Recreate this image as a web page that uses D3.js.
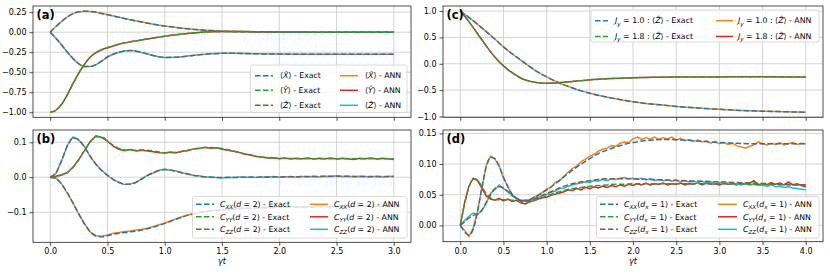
<!DOCTYPE html>
<html><head><meta charset="utf-8">
<script src="https://cdn.jsdelivr.net/npm/d3@7"></script>
<style>
body{margin:0;background:#fff}
svg{display:block}
text{font-family:"DejaVu Sans",sans-serif;fill:#000}
</style>
</head><body>
<svg id="chart" width="830" height="277"></svg>
<script>
// ---------------- DATA ----------------
const xTicksAB = [0, 0.5, 1.0, 1.5, 2.0, 2.5, 3.0];
const xTicksCD = [0, 0.5, 1.0, 1.5, 2.0, 2.5, 3.0, 3.5, 4.0];
const yTicksA = [-1.0, -0.75, -0.5, -0.25, 0, 0.25];
const yTicksB = [-0.1, 0, 0.1];
const yTicksC = [-1.0, -0.5, 0, 0.5, 1.0];
const yTicksD = [0, 0.05, 0.10, 0.15];

// (a) expectation values
const tA = [0,.05,.1,.15,.2,.25,.3,.35,.4,.45,.5,.6,.7,.8,.9,1.0,1.1,1.2,1.3,1.4,1.5,1.6,1.7,1.8,2.0,2.2,2.4,2.6,2.8,3.0];
const aX = [0,0.07,0.135,0.19,0.232,0.255,0.262,0.258,0.248,0.234,0.218,0.186,0.155,0.126,0.100,0.077,0.058,0.042,0.030,0.020,0.013,0.008,0.005,0.003,0.001,0,0,0,0,0];
const aY = [-1,-0.975,-0.90,-0.78,-0.64,-0.51,-0.40,-0.31,-0.255,-0.22,-0.195,-0.15,-0.12,-0.097,-0.072,-0.05,-0.032,-0.016,-0.004,0.004,0.008,0.009,0.008,0.006,0.003,0.001,0,0,0,0];
const aZ = [0,-0.075,-0.16,-0.25,-0.33,-0.395,-0.43,-0.43,-0.405,-0.36,-0.31,-0.25,-0.23,-0.253,-0.292,-0.315,-0.312,-0.298,-0.282,-0.27,-0.264,-0.263,-0.266,-0.27,-0.274,-0.276,-0.276,-0.276,-0.276,-0.276];
// ANN curves coincide with exact ones in (a)
const aXann = aX, aYann = aY, aZann = aZ;

// (b) correlations d = 2, exact
const tB = [0,.05,.1,.15,.2,.25,.3,.35,.4,.45,.5,.55,.6,.65,.7,.75,.8,.85,.9,.95,1.0,1.1,1.2,1.3,1.4,1.5,1.6,1.7,1.8,1.9,2.0,2.25,2.5,2.75,3.0];
const bXX = [0,-0.003,-0.02,-0.045,-0.075,-0.105,-0.134,-0.156,-0.168,-0.17,-0.167,-0.163,-0.16,-0.158,-0.156,-0.154,-0.151,-0.147,-0.143,-0.138,-0.132,-0.12,-0.109,-0.101,-0.096,-0.093,-0.091,-0.089,-0.088,-0.087,-0.086,-0.085,-0.084,-0.083,-0.083];
const bYY = [0,0.002,0.006,0.014,0.028,0.05,0.077,0.101,0.116,0.116,0.104,0.091,0.082,0.078,0.077,0.077,0.078,0.077,0.075,0.072,0.070,0.071,0.077,0.083,0.085,0.082,0.075,0.067,0.06,0.056,0.054,0.053,0.053,0.053,0.053];
const bZZ = [0,0.012,0.048,0.09,0.113,0.107,0.086,0.06,0.037,0.019,0.006,-0.006,-0.015,-0.02,-0.02,-0.014,-0.005,0.005,0.013,0.019,0.022,0.017,0.009,0.003,0.0,-0.001,-0.001,0.0,0.0,0.001,0.001,0.002,0.003,0.002,0.002];
// (b) ANN, sampled every 0.05
const bXXann = [0,-0.002,-0.019,-0.046,-0.074,-0.106,-0.133,-0.157,-0.167,-0.169,
 -0.165,-0.160,-0.158,-0.155,-0.154,-0.151,-0.149,-0.146,-0.141,-0.136,
 -0.131,-0.125,-0.119,-0.113,-0.108,-0.104,-0.100,-0.098,-0.095,-0.094,
 -0.092,-0.091,-0.090,-0.089,-0.088,-0.089,-0.087,-0.088,-0.086,-0.087,
 -0.085,-0.086,-0.084,-0.086,-0.085,-0.084,-0.086,-0.084,-0.083,-0.085,
 -0.083,-0.084,-0.082,-0.084,-0.083,-0.082,-0.084,-0.082,-0.083,-0.081,-0.082];
const bYYann = [0,0.003,0.007,0.013,0.029,0.051,0.076,0.102,0.118,0.114,
 0.103,0.089,0.080,0.076,0.079,0.075,0.077,0.075,0.073,0.070,
 0.069,0.072,0.070,0.074,0.076,0.081,0.082,0.086,0.083,0.084,
 0.080,0.077,0.074,0.071,0.066,0.064,0.059,0.058,0.055,0.056,
 0.053,0.055,0.052,0.054,0.053,0.055,0.052,0.054,0.053,0.055,
 0.052,0.054,0.053,0.051,0.054,0.053,0.055,0.052,0.054,0.053,0.051];
const bZZann = [0,0.011,0.047,0.091,0.115,0.106,0.087,0.059,0.036,0.020,
 0.005,-0.007,-0.014,-0.021,-0.019,-0.015,-0.004,0.006,0.012,0.020,
 0.023,0.020,0.018,0.012,0.010,0.005,0.004,0.001,0.001,-0.001,
 -0.002,0.000,-0.001,0.001,0.000,0.001,-0.001,0.001,0.000,0.002,
 0.000,0.001,0.002,0.000,0.002,0.001,0.003,0.001,0.003,0.002,
 0.004,0.002,0.003,0.001,0.003,0.002,0.001,0.003,0.001,0.002,0.003];

// (c) <Z> for two couplings
const tC = [0,.1,.2,.3,.4,.5,.6,.7,.8,.9,1.0,1.1,1.2,1.3,1.4,1.5,1.75,2.0,2.25,2.5,2.75,3.0,3.25,3.5,3.75,4.0];
const cJ10 = [1.0,0.88,0.75,0.61,0.47,0.32,0.19,0.07,-0.05,-0.16,-0.25,-0.33,-0.40,-0.46,-0.515,-0.56,-0.65,-0.72,-0.77,-0.81,-0.84,-0.865,-0.885,-0.9,-0.91,-0.92];
const cJ18 = [1.0,0.80,0.57,0.34,0.13,-0.04,-0.17,-0.27,-0.33,-0.36,-0.37,-0.365,-0.35,-0.335,-0.32,-0.305,-0.28,-0.265,-0.257,-0.252,-0.25,-0.249,-0.248,-0.248,-0.249,-0.252];
const cJ10ann = cJ10, cJ18ann = cJ18;

// (d) correlations d_x = 1, exact
const tD = [0,.05,.1,.15,.2,.25,.3,.35,.4,.45,.5,.55,.6,.65,.7,.75,.8,.9,1.0,1.1,1.2,1.3,1.4,1.5,1.6,1.7,1.8,1.9,2.0,2.2,2.4,2.6,2.8,3.0,3.2,3.4,3.6,3.8,4.0];
const dXX = [0,-0.01,-0.016,-0.006,0.022,0.062,0.095,0.111,0.109,0.096,0.079,0.063,0.051,0.044,0.041,0.040,0.042,0.049,0.058,0.068,0.079,0.090,0.100,0.109,0.117,0.123,0.128,0.132,0.135,0.139,0.140,0.139,0.137,0.135,0.134,0.133,0.133,0.133,0.133];
const dYY = [0,0.035,0.062,0.076,0.074,0.063,0.052,0.045,0.042,0.042,0.042,0.042,0.041,0.04,0.039,0.038,0.039,0.043,0.048,0.053,0.057,0.06,0.062,0.064,0.065,0.066,0.067,0.067,0.068,0.068,0.068,0.068,0.068,0.068,0.068,0.067,0.067,0.066,0.066];
const dZZ = [0,0.006,0.012,0.016,0.019,0.025,0.037,0.05,0.06,0.063,0.061,0.055,0.049,0.044,0.041,0.04,0.041,0.046,0.052,0.058,0.064,0.068,0.071,0.073,0.075,0.076,0.076,0.076,0.076,0.075,0.074,0.073,0.072,0.071,0.07,0.069,0.068,0.067,0.066];
// (d) ANN, sampled every 0.05
const dXXann = [0.000,-0.008,-0.018,-0.004,0.024,0.060,0.097,0.113,0.108,0.098,
 0.077,0.064,0.049,0.045,0.039,0.042,0.041,0.046,0.049,0.054,
 0.059,0.062,0.070,0.073,0.080,0.087,0.093,0.097,0.104,0.108,
 0.113,0.116,0.121,0.124,0.126,0.130,0.129,0.134,0.136,0.135,
 0.141,0.144,0.140,0.143,0.141,0.144,0.140,0.143,0.141,0.144,
 0.139,0.142,0.138,0.140,0.137,0.139,0.136,0.138,0.134,0.137,
 0.133,0.135,0.132,0.134,0.130,0.128,0.126,0.129,0.131,0.136,
 0.133,0.131,0.134,0.132,0.135,0.131,0.133,0.135,0.132,0.134,0.133];
const dYYann = [0.000,0.037,0.064,0.077,0.073,0.061,0.048,0.043,0.041,0.044,
 0.040,0.043,0.039,0.041,0.037,0.035,0.038,0.040,0.043,0.045,
 0.046,0.049,0.051,0.053,0.055,0.058,0.057,0.060,0.058,0.062,
 0.060,0.063,0.061,0.064,0.062,0.065,0.063,0.066,0.064,0.067,
 0.065,0.068,0.066,0.069,0.066,0.068,0.067,0.069,0.066,0.068,
 0.067,0.069,0.066,0.068,0.067,0.070,0.066,0.069,0.067,0.068,
 0.066,0.069,0.067,0.068,0.066,0.069,0.067,0.069,0.073,0.066,
 0.068,0.066,0.070,0.067,0.069,0.066,0.071,0.066,0.068,0.065,0.063];
const dZZann = [0.000,0.008,0.015,0.020,0.018,0.024,0.036,0.052,0.058,0.066,
 0.060,0.056,0.048,0.045,0.040,0.041,0.039,0.043,0.045,0.049,
 0.050,0.054,0.056,0.060,0.061,0.064,0.066,0.068,0.069,0.071,
 0.070,0.073,0.072,0.075,0.073,0.076,0.075,0.077,0.078,0.076,
 0.077,0.075,0.077,0.074,0.076,0.073,0.075,0.073,0.074,0.072,
 0.074,0.071,0.073,0.071,0.072,0.070,0.072,0.069,0.071,0.068,
 0.070,0.068,0.069,0.067,0.068,0.066,0.068,0.066,0.067,0.065,
 0.066,0.064,0.066,0.063,0.064,0.062,0.063,0.061,0.060,0.059,0.058];

// sample grids for ANN curves (every 0.05)
const tBann = d3.range(bXXann.length).map(i => i * 0.05);
const tDann = d3.range(dXXann.length).map(i => i * 0.05);

// ---------------- STYLE ----------------
const C = {blue:"#1f77b4", orange:"#ff7f0e", green:"#2ca02c", red:"#d62728", brown:"#8c564b", cyan:"#17becf"};
const DASH = "5.55,2.4";
const FS = 8, LFS = 7.8;

const svg = d3.select("#chart");

function rich(sel, parts, fs) {
  let off = 0;
  parts.forEach(([s, st]) => {
    const sub = st.includes("s");
    const target = sub ? fs * 0.28 : 0;
    sel.append("tspan").text(s)
      .attr("dy", target - off)
      .attr("font-size", sub ? fs * 0.72 : fs)
      .attr("font-style", st.includes("i") ? "italic" : "normal");
    off = target;
  });
}

const hat = c => c + "\u0302";
const lblA = (v, k) => [["\u27E8", ""], [hat(v), "i"], ["\u27E9 - " + k, ""]];
const lblB = (v, k) => [["C", "i"], [v, "si"], ["(", ""], ["d", "i"], [" = 2) - " + k, ""]];
const lblC = (j, k) => [["J", "i"], ["y", "si"], [" = " + j + " : \u27E8", ""], [hat("Z"), "i"], ["\u27E9 - " + k, ""]];
const lblD = (v, k) => [["C", "i"], [v, "si"], ["(", ""], ["d", "i"], ["x", "si"], [" = 1) - " + k, ""]];

const panels = [
  { tag:"(a)", x0:33, x1:411, y0:6, y1:117.3, xd:[-0.15,3.15], yd:[-1.063,0.327], xt:xTicksAB, yt:yTicksA, yf:".2f", xlab:false,
    ann:[[tA,aXann,C.orange],[tA,aYann,C.red],[tA,aZann,C.cyan]],
    ex:[[tA,aX,C.blue],[tA,aY,C.green],[tA,aZ,C.brown]],
    leg:{x:250.5, y:65, w:156.5, h:47.5, rows:[75.7,90.3,105.3], cols:[[255,273,280],[340,358,365]],
      items:[[lblA("X","Exact"),C.blue,1],[lblA("Y","Exact"),C.green,1],[lblA("Z","Exact"),C.brown,1],
             [lblA("X","ANN"),C.orange,0],[lblA("Y","ANN"),C.red,0],[lblA("Z","ANN"),C.cyan,0]]} },
  { tag:"(b)", x0:33, x1:411, y0:130, y1:242.3, xd:[-0.15,3.15], yd:[-0.186,0.135], xt:xTicksAB, yt:yTicksB, yf:".1f", xlab:true,
    ann:[[tBann,bXXann,C.orange],[tBann,bYYann,C.red],[tBann,bZZann,C.cyan]],
    ex:[[tB,bXX,C.blue],[tB,bYY,C.green],[tB,bZZ,C.brown]],
    leg:{x:192.5, y:196.5, w:214.5, h:41.5, rows:[204.3,216.8,229.3], cols:[[196,214,220],[310,328,334]],
      items:[[lblB("XX","Exact"),C.blue,1],[lblB("YY","Exact"),C.green,1],[lblB("ZZ","Exact"),C.brown,1],
             [lblB("XX","ANN"),C.orange,0],[lblB("YY","ANN"),C.red,0],[lblB("ZZ","ANN"),C.cyan,0]]} },
  { tag:"(c)", x0:443, x1:823, y0:6, y1:117.3, xd:[-0.2,4.2], yd:[-1.016,1.096], xt:xTicksCD, yt:yTicksC, yf:".1f", xlab:false,
    ann:[[tC,cJ10ann,C.orange],[tC,cJ18ann,C.red]],
    ex:[[tC,cJ10,C.blue],[tC,cJ18,C.green]],
    leg:{x:591, y:10, w:228, h:32, rows:[20.7,36.5], cols:[[595,608,615],[716,733,738]],
      items:[[lblC("1.0","Exact"),C.blue,1],[lblC("1.8","Exact"),C.green,1],
             [lblC("1.0","ANN"),C.orange,0],[lblC("1.8","ANN"),C.red,0]]} },
  { tag:"(d)", x0:443, x1:823, y0:130, y1:241.7, xd:[-0.2,4.2], yd:[-0.0265,0.1555], xt:xTicksCD, yt:yTicksD, yf:".2f", xlab:true,
    ann:[[tDann,dXXann,C.orange],[tDann,dYYann,C.red],[tDann,dZZann,C.cyan]],
    ex:[[tD,dXX,C.blue],[tD,dYY,C.green],[tD,dZZ,C.brown]],
    leg:{x:596.5, y:196.5, w:222.5, h:41.5, rows:[204.3,216.8,229.3], cols:[[600,618,624],[718,737,743]],
      items:[[lblD("XX","Exact"),C.blue,1],[lblD("YY","Exact"),C.green,1],[lblD("ZZ","Exact"),C.brown,1],
             [lblD("XX","ANN"),C.orange,0],[lblD("YY","ANN"),C.red,0],[lblD("ZZ","ANN"),C.cyan,0]]} },
];

panels.forEach((p, pi) => {
  const x = d3.scaleLinear().domain(p.xd).range([p.x0, p.x1]);
  const y = d3.scaleLinear().domain(p.yd).range([p.y1, p.y0]);
  const g = svg.append("g");

  // grid
  g.append("g").selectAll("line").data(p.xt).join("line")
    .attr("x1", d => x(d)).attr("x2", d => x(d)).attr("y1", p.y0).attr("y2", p.y1)
    .attr("stroke", "#cfcfcf").attr("stroke-width", 0.9);
  g.append("g").selectAll("line").data(p.yt).join("line")
    .attr("y1", d => y(d)).attr("y2", d => y(d)).attr("x1", p.x0).attr("x2", p.x1)
    .attr("stroke", "#cfcfcf").attr("stroke-width", 0.9);

  // clip
  const cid = "clip" + pi;
  svg.append("clipPath").attr("id", cid).append("rect")
    .attr("x", p.x0).attr("y", p.y0).attr("width", p.x1 - p.x0).attr("height", p.y1 - p.y0);
  const lg = g.append("g").attr("clip-path", `url(#${cid})`);

  const smooth = d3.line().curve(d3.curveMonotoneX);
  const straight = d3.line();
  p.ann.forEach(([t, v, col]) => {
    const pts = t.map((tt, i) => [x(tt), y(v[i])]);
    lg.append("path").attr("d", (t.length > 45 ? straight : smooth)(pts))
      .attr("fill", "none").attr("stroke", col).attr("stroke-width", 1.5);
  });
  p.ex.forEach(([t, v, col]) => {
    const pts = t.map((tt, i) => [x(tt), y(v[i])]);
    lg.append("path").attr("d", smooth(pts))
      .attr("fill", "none").attr("stroke", col).attr("stroke-width", 1.5).attr("stroke-dasharray", DASH);
  });

  // axes
  const xa = d3.axisBottom(x).tickValues(p.xt).tickSize(3.5).tickPadding(3).tickSizeOuter(0)
    .tickFormat(p.xlab ? d3.format(".1f") : () => "");
  const ya = d3.axisLeft(y).tickValues(p.yt).tickSize(3.5).tickPadding(3).tickSizeOuter(0)
    .tickFormat(d3.format(p.yf));
  const gx = g.append("g").attr("transform", `translate(0,${p.y1})`).call(xa);
  const gy = g.append("g").attr("transform", `translate(${p.x0},0)`).call(ya);
  [gx, gy].forEach(a => {
    a.select(".domain").remove();
    a.selectAll(".tick line").attr("stroke", "#222").attr("stroke-width", 0.8);
    a.selectAll(".tick text").attr("font-size", FS).attr("font-family", "DejaVu Sans").attr("fill", "#222");
  });

  // frame
  g.append("rect").attr("x", p.x0).attr("y", p.y0).attr("width", p.x1 - p.x0).attr("height", p.y1 - p.y0)
    .attr("fill", "none").attr("stroke", "#222").attr("stroke-width", 0.8);

  // panel tag
  g.append("text").attr("x", p.x0 + 3.5).attr("y", p.y0 + 13).attr("font-size", 11.5)
    .attr("font-weight", "bold").text(p.tag);

  // xlabel
  if (p.xlab) {
    g.append("text").attr("x", (p.x0 + p.x1) / 2).attr("y", 264).attr("text-anchor", "middle")
      .attr("font-size", FS).attr("font-style", "italic").text("\u03B3t");
  }

  // legend
  const L = p.leg;
  const lgd = g.append("g");
  lgd.append("rect").attr("x", L.x).attr("y", L.y).attr("width", L.w).attr("height", L.h)
    .attr("rx", 2).attr("fill", "#fff").attr("fill-opacity", 0.8).attr("stroke", "#d0d0d0").attr("stroke-width", 0.8);
  const nr = L.rows.length;
  L.items.forEach(([parts, col, dashed], i) => {
    const c = L.cols[Math.floor(i / nr)], ry = L.rows[i % nr];
    lgd.append("line").attr("x1", c[0]).attr("x2", c[1]).attr("y1", ry).attr("y2", ry)
      .attr("stroke", col).attr("stroke-width", 1.5).attr("stroke-dasharray", dashed ? DASH : null);
    const tx = lgd.append("text").attr("x", c[2]).attr("y", ry + LFS * 0.35).attr("font-size", LFS);
    rich(tx, parts, LFS);
  });
});
</script>
</body></html>
